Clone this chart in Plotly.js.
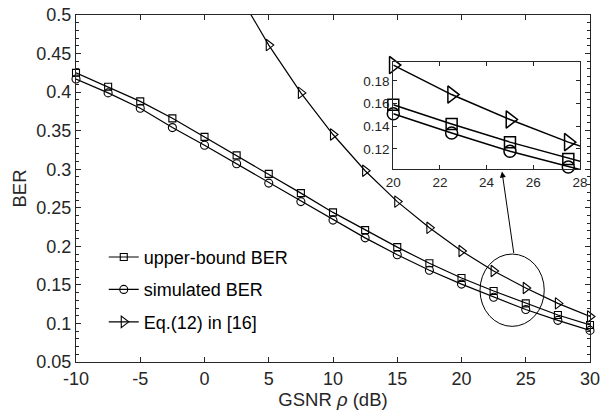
<!DOCTYPE html>
<html>
<head>
<meta charset="utf-8">
<script src="https://cdn.plot.ly/plotly-3.0.1.min.js"></script>
<style>html,body{margin:0;padding:0;background:#fff;}#chart{width:601px;height:412px;}</style>
</head>
<body>
<div id="chart"></div>
<script>
// GSNR values (dB)
const snr = [-10, -7.5, -5, -2.5, 0, 2.5, 5, 7.5, 10, 12.5, 15, 17.5, 20, 22.5, 25, 27.5, 30];
// upper-bound BER
const upperBER = [0.425, 0.407, 0.388, 0.366, 0.342, 0.318, 0.294, 0.269, 0.244, 0.221, 0.199, 0.178, 0.159, 0.142, 0.126, 0.111, 0.098];
// simulated BER
const simBER = [0.417, 0.399, 0.379, 0.354, 0.331, 0.307, 0.282, 0.258, 0.234, 0.211, 0.189, 0.169, 0.151, 0.134, 0.118, 0.104, 0.091];
// Eq.(12) in [16]
const eqSnr = [2.5, 5, 7.5, 10, 12.5, 15, 17.5, 20, 22.5, 25, 27.5, 30];
const eqBER = [0.532, 0.461, 0.399, 0.345, 0.298, 0.258, 0.224, 0.194, 0.168, 0.146, 0.126, 0.109];

const names = ['upper-bound BER', 'simulated BER', 'Eq.(12) in [16]'];
// tick labels (hyphen minus as in the original)
const xTickVals = [-10, -5, 0, 5, 10, 15, 20, 25, 30];
const xTickText = ['-10', '-5', '0', '5', '10', '15', '20', '25', '30'];
const insetStart = 20;

const black = '#000000';
const axisCol = '#262626';
const fontFam = '"Liberation Sans", Arial, Helvetica, sans-serif';

function sel(xs, ys) {
  const ox = [], oy = [];
  xs.forEach((x, i) => { if (x >= insetStart) { ox.push(x); oy.push(ys[i]); } });
  return [ox, oy];
}

const series = [
  {x: snr, y: upperBER, sym: 'square-open', size: 7, isize: 11},
  {x: snr, y: simBER, sym: 'circle-open', size: 8, isize: 12},
  {x: eqSnr, y: eqBER, sym: 'triangle-right-open', size: 10, isize: 15}
];

const traces = [];
series.forEach((s, i) => {
  traces.push({
    type: 'scatter', mode: 'lines+markers', x: s.x, y: s.y, name: names[i],
    legendgroup: 'g' + i, cliponaxis: false,
    line: {color: black, width: 1.2},
    marker: {symbol: s.sym, size: s.size, color: black, line: {color: black, width: 1.1}},
    xaxis: 'x', yaxis: 'y'
  });
});
series.forEach((s, i) => {
  const [ix, iy] = sel(s.x, s.y);
  traces.push({
    type: 'scatter', mode: 'lines+markers', x: ix, y: iy, showlegend: false,
    cliponaxis: false,
    line: {color: black, width: 1.5},
    marker: {symbol: s.sym, size: s.isize, color: black, line: {color: black, width: 1.5}},
    xaxis: 'x2', yaxis: 'y2'
  });
});

const mainTick = {size: 18, color: axisCol, family: fontFam};
const layout = {
  width: 601, height: 412,
  margin: {l: 76, r: 11, t: 15, b: 50},
  paper_bgcolor: '#ffffff', plot_bgcolor: '#ffffff',
  font: {family: fontFam, color: axisCol},
  showlegend: true,
  legend: {x: 0.054, y: 0.355, xanchor: 'left', yanchor: 'top', bgcolor: 'rgba(0,0,0,0)',
           font: {size: 18, color: black, family: fontFam}, tracegroupgap: 6},
  xaxis: {
    range: [-10, 30], tickmode: 'array', tickvals: xTickVals, ticktext: xTickText,
    ticks: 'inside', ticklen: 5, tickcolor: axisCol,
    showline: true, mirror: 'ticks', linecolor: axisCol, linewidth: 1,
    showgrid: false, zeroline: false, tickfont: mainTick,
    title: {text: 'GSNR <i>ρ</i> (dB)', font: {size: 18.5, color: axisCol, family: fontFam}, standoff: 0}
  },
  yaxis: {
    range: [0.05, 0.5], dtick: 0.05, tick0: 0, ticks: 'inside', ticklen: 5, tickcolor: axisCol,
    showline: true, mirror: 'ticks', linecolor: axisCol, linewidth: 1,
    showgrid: false, zeroline: false, tickfont: mainTick,
    minor: {ticks: 'inside', ticklen: 3, dtick: 0.01, tick0: 0, tickcolor: axisCol, showgrid: false},
    title: {text: 'BER', font: {size: 18.5, color: axisCol, family: fontFam}, standoff: 4}
  },
  xaxis2: {
    domain: [0.6173, 0.9805], anchor: 'y2', range: [20, 28], dtick: 2, tick0: 0,
    ticks: 'inside', ticklen: 4, tickcolor: axisCol,
    showline: true, mirror: 'ticks', linecolor: axisCol, linewidth: 1,
    showgrid: false, zeroline: false, tickfont: {size: 13.5, color: axisCol, family: fontFam}
  },
  yaxis2: {
    domain: [0.5553, 0.8654], anchor: 'x2', range: [0.102, 0.197], dtick: 0.02, tick0: 0,
    ticks: 'inside', ticklen: 4, tickcolor: axisCol,
    showline: true, mirror: 'ticks', linecolor: axisCol, linewidth: 1,
    showgrid: false, zeroline: false, tickfont: {size: 13.5, color: axisCol, family: fontFam}
  },
  shapes: [{
    type: 'circle', xref: 'x', yref: 'y', x0: 21.44, x1: 26.44, y0: 0.0962, y1: 0.19,
    line: {color: black, width: 1}
  }],
  annotations: [{
    xref: 'x', yref: 'y', x: 23.15, y: 0.297, ax: 12, ay: 83, text: '',
    showarrow: true, arrowhead: 2, arrowsize: 1.2, arrowwidth: 1, arrowcolor: black
  }]
};

Plotly.newPlot('chart', traces, layout, {staticPlot: true, displayModeBar: false});
</script>
</body>
</html>
